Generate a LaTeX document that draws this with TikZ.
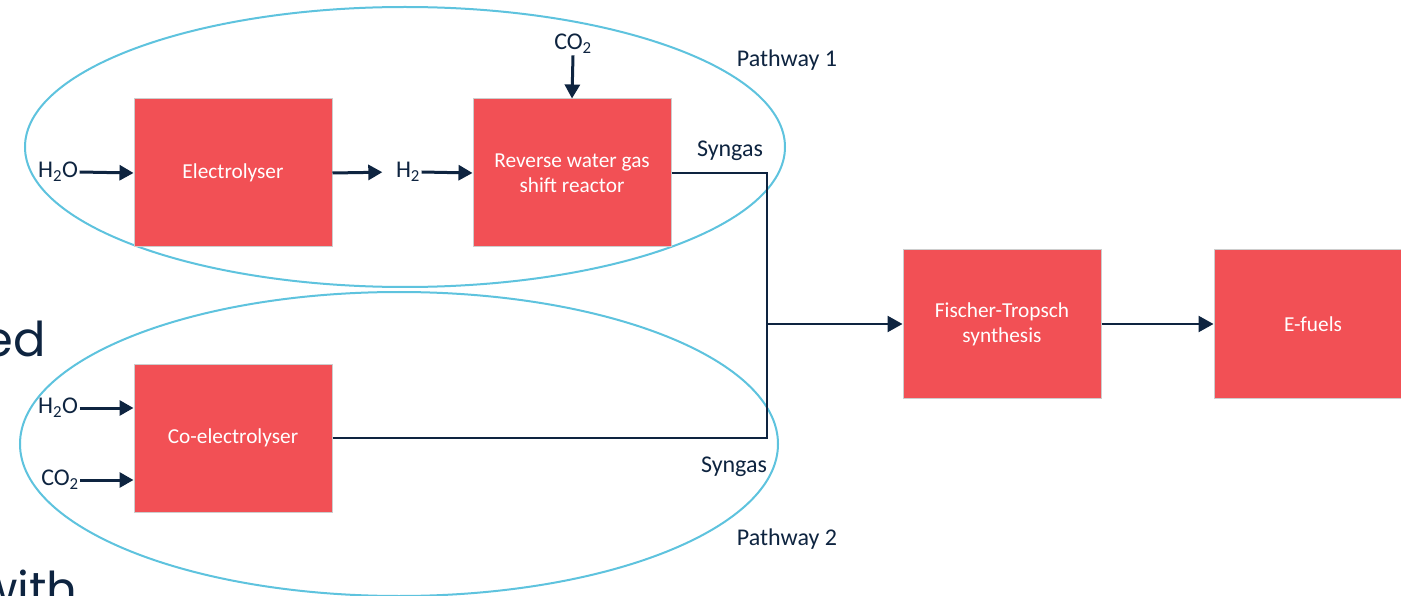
\documentclass[tikz,border=0pt]{standalone}
\usepackage{fontspec}
\setmainfont{Carlito}
\newfontfamily\slidefont{Poppins}
\usetikzlibrary{arrows.meta}
\definecolor{boxred}{RGB}{242,80,85}
\definecolor{navy}{RGB}{14,36,64}
\definecolor{ringblue}{RGB}{94,195,222}
\definecolor{boxedge}{RGB}{205,205,205}
\begin{document}
\begin{tikzpicture}[x=1pt,y=-1pt,
  proc/.style={fill=boxred, draw=boxedge, line width=1pt, minimum width=198pt, minimum height=148pt, text=white, font=\fontsize{21.3}{25}\selectfont, align=center, inner sep=0pt},
  lbl/.style={text=navy, font=\fontsize{24}{28}\selectfont, inner sep=1.5pt},
  flow/.style={draw=navy, line width=3pt, -{Triangle[length=14pt,width=15pt]}},
  thinflow/.style={draw=navy, line width=2.4pt, -{Triangle[length=15pt,width=16pt]}},
  pipe/.style={draw=navy, line width=2.4pt},
  ring/.style={draw=ringblue, line width=2pt},
  slide/.style={text=navy, font=\slidefont\fontsize{48}{56}\selectfont, inner sep=0pt},
]
\useasboundingbox (0,0) rectangle (1401,596);
\begin{scope}
\clip (0,0) rectangle (1401,596);
\fill[white] (0,0) rectangle (1401,596);
% slide text fragments
\node[slide, anchor=base east] (sed) at (46,356) {ed};
\node[slide, anchor=base west] (swith) at (-22,606) {with};
% pathway rings
\draw[ring] (405,147) ellipse [x radius=380pt, y radius=140pt];
\draw[ring] (399,444) ellipse [x radius=379pt, y radius=152pt];
% boxes
\node[proc] (el) at (233,173) {Electrolyser};
\node[proc] (rw) at (572,173) {Reverse water gas\\shift reactor};
\node[proc] (co) at (233,438) {Co-electrolyser};
\node[proc] (ft) at (1002,324) {Fischer-Tropsch\\synthesis};
\node[proc] (ef) at (1313,324) {E-fuels};
% labels
\node[lbl] (h2oa) at (58,172) {H\textsubscript{2}O};
\node[lbl] (h2) at (408,172) {H\textsubscript{2}};
\node[lbl] (co2t) at (573,44) {CO\textsubscript{2}};
\node[lbl] (h2ob) at (58,408) {H\textsubscript{2}O};
\node[lbl] (co2b) at (60,480) {CO\textsubscript{2}};
\node[lbl] (sg1) at (730,151) {Syngas};
\node[lbl] (sg2) at (734,467) {Syngas};
\node[lbl] (pw1) at (787,60) {Pathway 1};
\node[lbl] (pw2) at (787,539) {Pathway 2};
% connectors
\draw[flow] (h2oa.east) -- (el.west);
\draw[flow, shorten >=12pt] (el.east) -- (h2.west);
\draw[flow] (h2.east) -- (rw.west);
\draw[flow] (co2t.south) -- (rw.north);
\draw[flow] (h2ob.east) -- (h2ob.east -| co.west);
\draw[flow] (co2b.east) -- (co2b.east -| co.west);
\coordinate (j) at (767,324);
\draw[pipe] (rw.east) -| (j);
\draw[pipe] (co.east) -| (j);
\draw[thinflow] (j) -- (ft.west);
\draw[thinflow] (ft.east) -- (ef.west);
\end{scope}
\end{tikzpicture}
\end{document}
